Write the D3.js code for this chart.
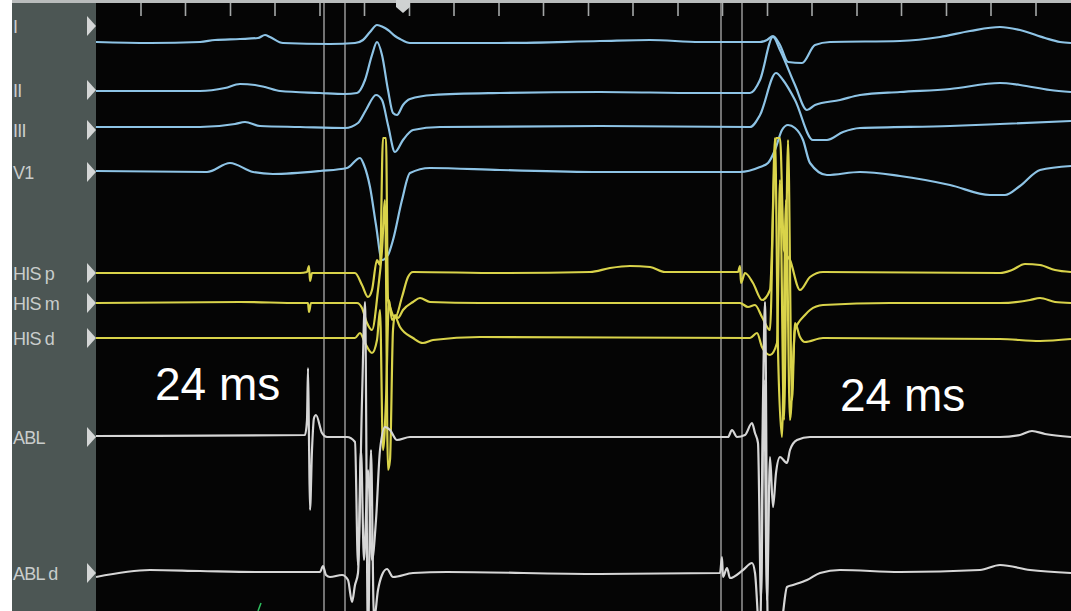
<!DOCTYPE html>
<html>
<head>
<meta charset="utf-8">
<script src="https://cdn.jsdelivr.net/npm/d3@7"></script>
<style>
  body { margin: 0; background: #fff; }
  svg { display: block; }
</style>
</head>
<body>
<svg id="chart" width="1071" height="611"></svg>
<script>
// channel names, top to bottom
const channels = ["I", "II", "III", "V1", "HIS p", "HIS m", "HIS d", "ABL", "ABL d"];

// ruler ticks along the top, ms
const tickTimes = [90, 179, 269, 358, 448, 537, 627, 716, 806, 895, 985, 1074, 1164, 1253, 1343, 1432, 1522, 1611, 1701, 1790, 1880];
// the two pairs of grey cursors, ms
const cursorTimes = [456, 498, 1250, 1292];
const markerTime = 614;

// annotations
const noteLabels = ["24 ms", "24 ms"];
const noteTimes = [118, 1488];

// traces: [time ms, amplitude] relative to the channel marker
const traceI = [[0,-16],[108,-17],[208,-16],[238,-14],[288,-13],[324,-12],[338,-9],[348,-11],[374,-17],[468,-18],[518,-17],[534,-14],[548,-6],[562,1],[574,-1],[584,-4],[598,-10],[608,-13],[628,-17],[808,-17],[1008,-15],[1108,-14],[1208,-16],[1328,-16],[1342,-14],[1354,-10],[1368,-19],[1384,-36],[1412,-37],[1438,-19],[1468,-16],[1608,-15],[1688,-11],[1748,-5],[1808,-1],[1848,-4],[1898,-12],[1928,-16],[1950,-17]];
const traceII = [[0,-1],[208,-1],[258,2],[288,6],[318,5],[338,3],[368,-1],[448,-3],[498,-4],[522,-3],[538,10],[552,35],[562,48],[572,35],[584,0],[594,-23],[602,-25],[614,-15],[628,-9],[674,-5],[808,-3],[1008,-2],[1208,-3],[1308,-3],[1328,10],[1354,53],[1368,40],[1398,5],[1422,-20],[1438,-15],[1488,-10],[1528,-5],[1608,-2],[1708,1],[1808,7],[1848,5],[1908,0],[1950,-2]];
const traceIII = [[0,3],[208,3],[278,6],[298,8],[328,4],[408,3],[498,2],[524,7],[540,20],[560,35],[572,30],[584,5],[598,-22],[614,-10],[634,0],[688,3],[1008,4],[1308,3],[1328,15],[1360,57],[1374,50],[1398,30],[1434,-10],[1462,-10],[1494,-2],[1528,2],[1708,4],[1808,6],[1950,9]];
const traceV1 = [[0,1],[222,0],[268,9],[314,0],[354,-2],[448,1],[502,4],[528,14],[536,7],[548,-15],[560,-53],[572,-88],[584,-83],[594,-68],[612,-28],[628,-1],[668,4],[808,2],[1008,0],[1208,0],[1288,0],[1328,5],[1344,9],[1358,22],[1372,42],[1384,47],[1398,44],[1414,32],[1428,9],[1462,-3],[1528,0],[1608,-4],[1708,-13],[1788,-23],[1818,-23],[1848,-14],[1888,2],[1950,6]];
const traceHISp = [[0,0],[408,0],[422,1],[426,7],[428,-8],[432,0],[518,0],[532,-12],[544,-24],[552,-17],[562,13],[568,8],[574,135],[580,135],[584,-27],[588,-34],[598,-45],[612,-24],[624,-4],[634,1],[808,0],[988,1],[1028,5],[1068,7],[1108,6],[1138,1],[1284,1],[1288,7],[1290,-10],[1298,0],[1314,-10],[1332,-27],[1348,-17],[1360,135],[1368,135],[1376,23],[1388,13],[1408,-17],[1428,-4],[1454,1],[1808,0],[1832,3],[1858,9],[1888,8],[1918,3],[1950,1]];
const traceHISm = [[0,0],[288,1],[408,0],[424,0],[426,-9],[430,0],[522,0],[532,-5],[542,-20],[552,-27],[564,13],[572,53],[578,103],[584,-167],[588,-157],[594,-27],[598,-12],[604,-15],[614,-7],[634,1],[648,5],[668,1],[768,0],[1288,0],[1304,-4],[1318,-2],[1332,-14],[1348,-27],[1358,165],[1364,-47],[1372,-134],[1380,103],[1388,-117],[1398,-27],[1418,-12],[1428,-7],[1454,-2],[1588,0],[1808,0],[1868,3],[1888,5],[1918,1],[1950,0]];
const traceHISd = [[0,0],[518,0],[528,5],[538,-5],[552,-15],[562,-2],[568,28],[574,-112],[580,-62],[586,38],[592,18],[598,21],[608,11],[634,0],[654,-5],[674,-2],[768,1],[1308,0],[1322,5],[1332,-9],[1348,-17],[1362,-5],[1368,158],[1376,-82],[1384,198],[1392,-62],[1398,15],[1408,1],[1418,-4],[1454,0],[1808,-1],[1888,-3],[1950,-1]];
const traceABL = [[0,1],[418,2],[422,17],[424,69],[426,-3],[428,-73],[432,-13],[436,19],[440,22],[452,4],[462,0],[502,0],[518,-5],[524,-128],[530,-13],[536,-123],[544,-33],[552,-123],[560,-83],[568,-13],[578,10],[588,7],[602,-3],[628,0],[1008,0],[1264,0],[1272,7],[1282,0],[1298,2],[1312,14],[1318,4],[1324,-6],[1330,-163],[1336,57],[1342,-163],[1348,-20],[1354,-70],[1360,-36],[1368,-20],[1382,-26],[1388,-13],[1402,-3],[1428,0],[1808,0],[1848,2],[1872,6],[1898,3],[1950,0]];
const traceABLd = [[0,-4],[108,3],[208,2],[328,1],[448,1],[454,7],[460,-2],[468,-4],[492,-2],[504,-7],[512,-29],[518,-12],[524,0],[532,173],[538,271],[544,-67],[550,123],[556,-47],[564,-17],[572,-2],[582,4],[594,-4],[634,0],[702,1],[1008,-1],[1248,0],[1252,16],[1254,-4],[1262,5],[1268,-5],[1294,3],[1312,10],[1318,0],[1328,-67],[1334,173],[1338,271],[1344,-67],[1358,-67],[1372,-47],[1382,-14],[1394,-12],[1422,-7],[1448,0],[1488,3],[1608,1],[1768,3],[1808,8],[1868,3],[1950,0]];

const traces = [traceI, traceII, traceIII, traceV1, traceHISp, traceHISm, traceHISd, traceABL, traceABLd];

// ---- layout ----
const W = 1071, H = 611;
const panelLeft = 12, plotLeft = 96, rulerH = 3;
const chanY = [26, 90, 130, 172, 273, 303, 338, 437, 573];
const chanColor = ["#8ec4e6", "#8ec4e6", "#8ec4e6", "#8ec4e6", "#d9d34a", "#d9d34a", "#d9d34a", "#d6d6d6", "#d6d6d6"];
const noteY = [400, 411];

const svg = d3.select("#chart");
const x = d3.scaleLinear().domain([0, 1950]).range([plotLeft, W]);
const amp = d3.scaleLinear().domain([0, 1]).range([0, -1]);

svg.append("rect").attr("x", 0).attr("y", 0).attr("width", W).attr("height", H).attr("fill", "#ffffff");
svg.append("rect").attr("x", panelLeft).attr("y", 0).attr("width", W - panelLeft).attr("height", rulerH).attr("fill", "#b9bcbc");
svg.append("rect").attr("x", panelLeft).attr("y", rulerH).attr("width", plotLeft - panelLeft).attr("height", H - rulerH).attr("fill", "#4c5654");
svg.append("rect").attr("x", plotLeft).attr("y", rulerH).attr("width", W - plotLeft).attr("height", H - rulerH).attr("fill", "#050505");

svg.append("clipPath").attr("id", "plotclip")
    .append("rect").attr("x", plotLeft).attr("y", rulerH).attr("width", W - plotLeft).attr("height", H - rulerH);

// ruler ticks
for (let t of tickTimes){
    svg.append("line")
        .attr("x1", x(t)).attr("x2", x(t))
        .attr("y1", rulerH).attr("y2", 16)
        .attr("stroke", "#a4a7a7")
        .attr("stroke-width", 1.6);
}

// cursors
for (let t of cursorTimes){
    svg.append("line")
        .attr("x1", x(t)).attr("x2", x(t))
        .attr("y1", rulerH).attr("y2", H)
        .attr("stroke", "#8f8f8f")
        .attr("stroke-width", 1.6);
}

// marker at top of ruler
let mx = x(markerTime);
svg.append("path")
    .attr("d", `M${mx-7},0 L${mx+7},0 L${mx+7},7 L${mx},13 L${mx-7},7 Z`)
    .attr("fill", "#cfd2d2");

// channel labels and arrows
channels.forEach((name, i) => {
    svg.append("text")
        .attr("x", 13)
        .attr("y", chanY[i] + 7)
        .attr("font-family", "Liberation Sans, Arial, sans-serif")
        .attr("font-size", 18)
        .attr("letter-spacing", -0.8)
        .attr("fill", "#c9cdcc")
        .text(name);

    svg.append("path")
        .attr("d", `M87,${chanY[i]-10} L96,${chanY[i]} L87,${chanY[i]+10} Z`)
        .attr("fill", "#d4d6d6");
});

// traces
let line = d3.line()
    .x(d => x(d[0]))
    .curve(d3.curveMonotoneX);

let g = svg.append("g").attr("clip-path", "url(#plotclip)");
traces.forEach((tr, i) => {
    g.append("path")
        .datum(tr)
        .attr("fill", "none")
        .attr("stroke", chanColor[i])
        .attr("stroke-width", 2.2)
        .attr("stroke-linejoin", "round")
        .attr("d", line.y(d => chanY[i] + amp(d[1])));
});

// small green mark at the bottom
svg.append("line")
    .attr("x1", x(324)).attr("x2", x(330))
    .attr("y1", H).attr("y2", H - 8)
    .attr("stroke", "#2fbf5f")
    .attr("stroke-width", 1.5);

// annotations
noteLabels.forEach((lab, i) => {
    svg.append("text")
        .attr("x", x(noteTimes[i]))
        .attr("y", noteY[i])
        .attr("font-family", "Liberation Sans, Arial, sans-serif")
        .attr("font-size", 46)
        .attr("fill", "#ffffff")
        .text(lab);
});
</script>
</body>
</html>
